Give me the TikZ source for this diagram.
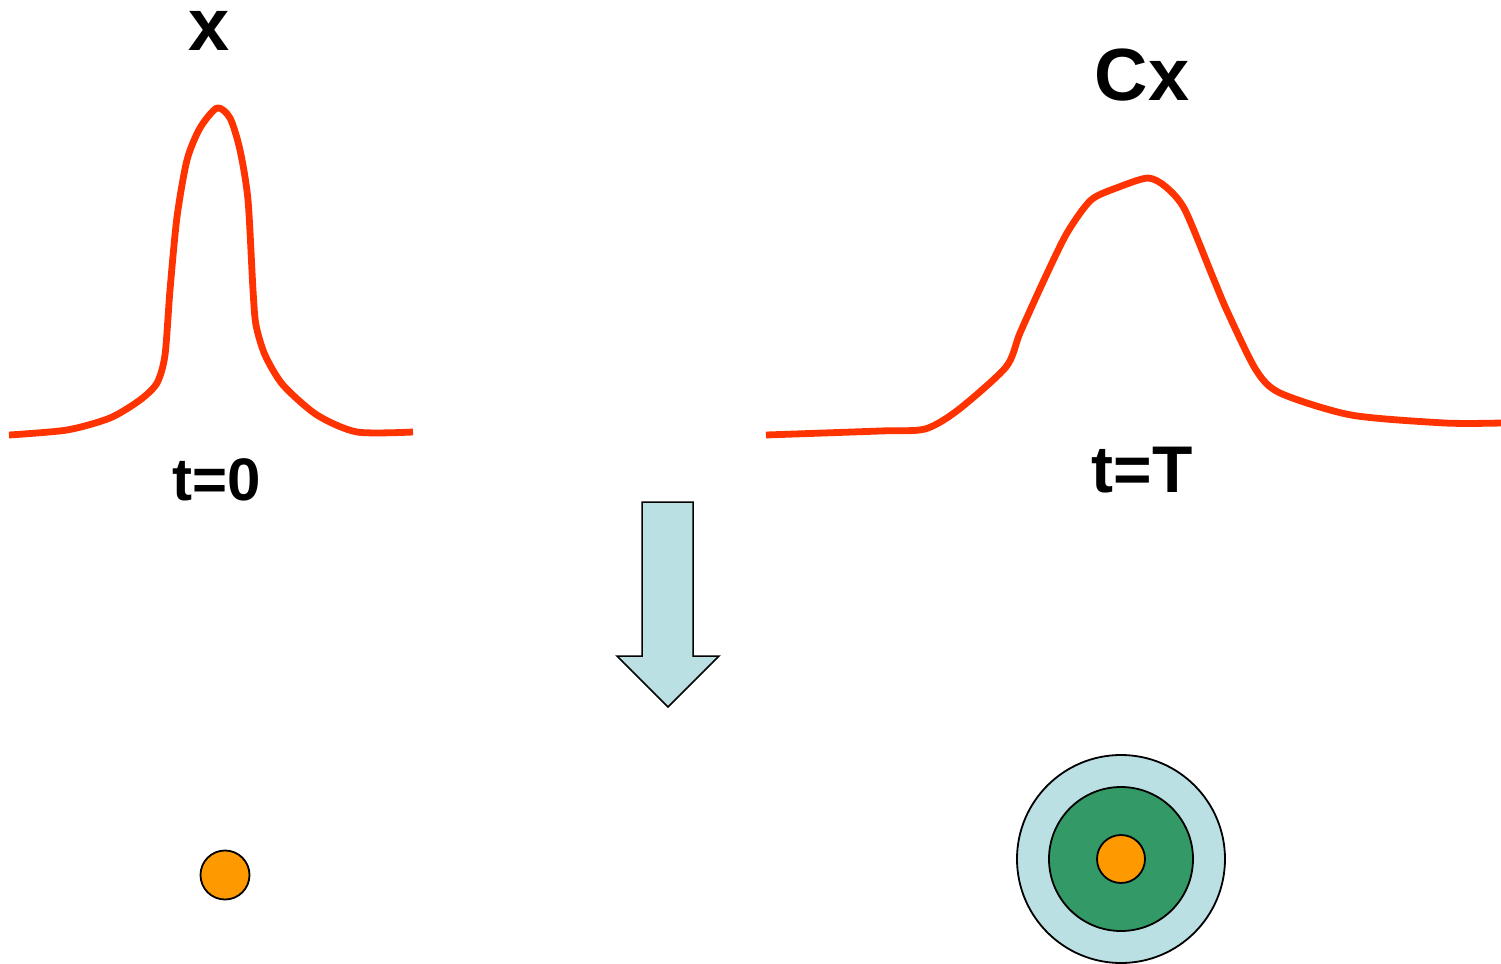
\documentclass[tikz,border=0pt]{standalone}
\usepackage{fontspec}
\setmainfont{Liberation Sans}
\usetikzlibrary{positioning}
\definecolor{CurveRed}{HTML}{FF3300}
\definecolor{DotOrange}{HTML}{FF9900}
\definecolor{RingGreen}{HTML}{339966}
\definecolor{RingBlue}{HTML}{BBE0E3}

\begin{document}
\begin{tikzpicture}[x=0.5pt,y=-0.5pt,
  curve/.style={draw=CurveRed,line width=3.4pt,line join=round},
  dot/.style={circle,draw=black,line width=0.9pt,inner sep=0pt,minimum size=#1},
  lbl/.style={font=\bfseries,anchor=base,inner sep=1pt}]
 \useasboundingbox (0,0) rectangle (1501,964);
 % narrow pulse at t=0
 \draw[curve] plot[smooth,tension=0.45] coordinates {(9,435) (67,430) (110,418) (140,400) (157,383)
   (165,355) (170,290) (177,217) (187,160) (200,128) (217,108) (230,118) (240,150) (248,200)
   (253,290) (256,325) (265,355) (283,385) (317,415) (357,432) (413,432)};
 % broadened pulse at t=T
 \draw[curve] plot[smooth,tension=0.45] coordinates {(766,435) (880,431) (925,429) (958,410)
   (1006,367) (1020,333) (1044,280) (1067,233) (1091,200) (1119,187) (1148,178) (1166,187)
   (1185,210) (1214,280) (1228,313) (1256,370) (1280,393) (1351,415) (1445,423) (1501,423)};
 \node[lbl,font=\fontsize{37}{44}\selectfont\bfseries,text height=0.55em] (xlbl) at (209,50) {x};
 \node[lbl,font=\fontsize{37}{44}\selectfont\bfseries] (cxlbl) at (1142,100) {Cx};
 \node[lbl,font=\fontsize{30}{36}\selectfont\bfseries] (t0lbl) at (217,500) {t=0};
 \node[lbl,font=\fontsize{33}{40}\selectfont\bfseries] (tTlbl) at (1142,492) {t=T};
 % block arrow
 \filldraw[fill=RingBlue,draw=black,line width=0.75pt] (642,502) -- (693,502) -- (693,656)
   -- (719,656) -- (668,707) -- (617,656) -- (642,656) -- cycle;
 % dots
 \node[dot=24.5pt,fill=DotOrange] (dot0) at (225,875) {};
 \node[dot=104pt,fill=RingBlue] (outer) at (1121,859) {};
 \node[dot=72pt,fill=RingGreen] (inner) at (outer) {};
 \node[dot=24pt,fill=DotOrange] (core) at (outer) {};
\end{tikzpicture}
\end{document}
